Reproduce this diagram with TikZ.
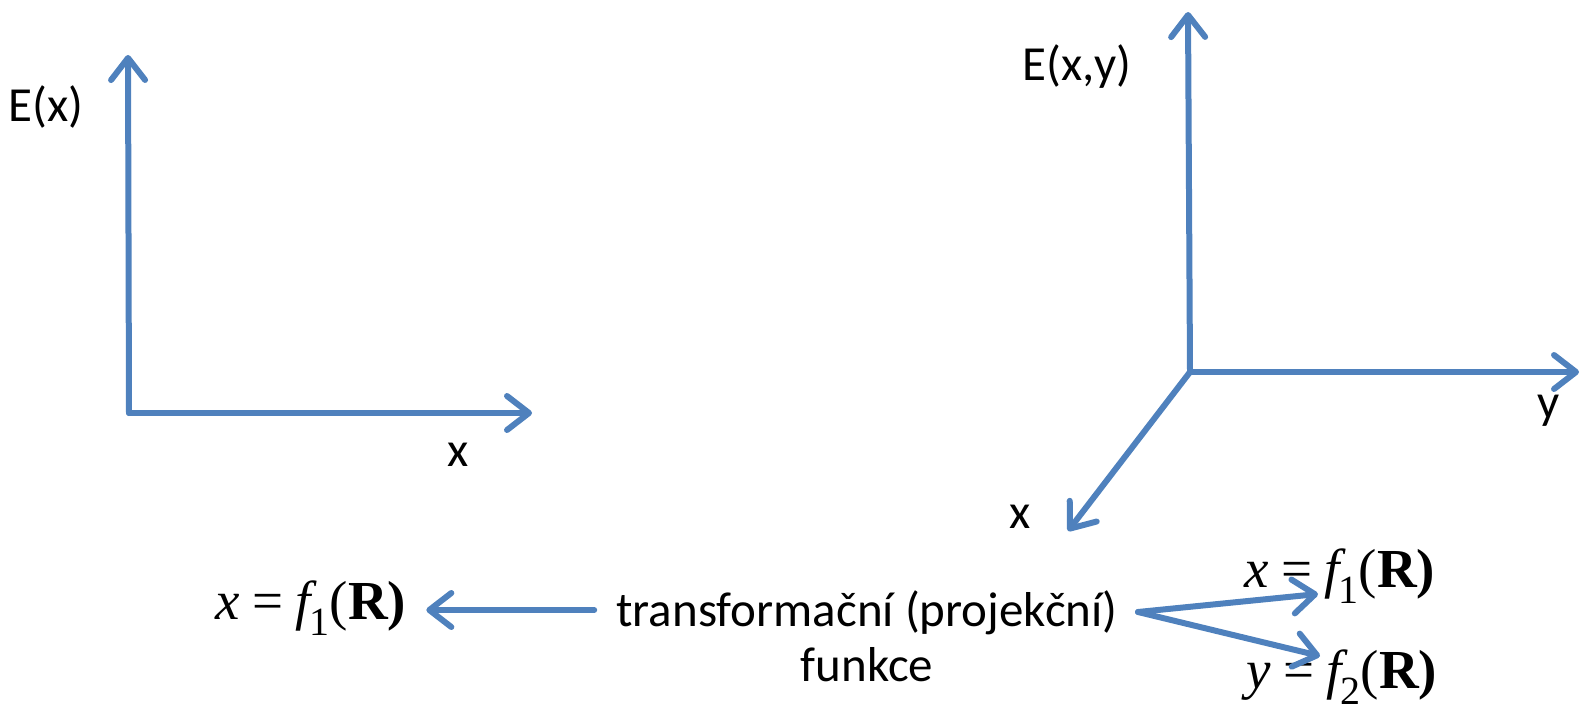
\documentclass[tikz,border=0pt]{standalone}
\usepackage{fontspec}
\setmainfont{Carlito}
\newfontfamily\tnr{Liberation Serif}
\usetikzlibrary{arrows.meta}
\definecolor{axblue}{RGB}{79,129,189}
\newcommand{\frm}[3]{{\tnr\itshape #1}\hspace{0.22em}{\tnr =}\hspace{0.22em}{\tnr\itshape #2}\kern-1pt\raisebox{-0.3em}{\fontsize{40}{40}\selectfont\tnr #3}{\tnr(\bfseries R)}}
\tikzset{
  ax/.style={draw=axblue, line width=6pt, line cap=round, line join=round,
    -{Straight Barb[length=22pt,width=34pt,round]}},
  lbl/.style={font=\fontsize{49}{55}\selectfont, inner sep=0pt},
  frml/.style={font=\fontsize{55}{60}\selectfont, inner sep=0pt}
}
\begin{document}
\begin{tikzpicture}[x=1pt,y=-1pt]
\useasboundingbox (0,0) rectangle (1581,709);
% left axes
\coordinate (o1) at (129,413);
\coordinate (e1) at (128,55);
\coordinate (x1) at (532,413);
\draw[ax] (o1) -- (e1);
\draw[ax] (o1) -- (x1);
\node[lbl] (Ex) at (46,107) {E(x)};
\node[lbl] (lx) at (458,455) {x};
% right axes
\coordinate (o2) at (1190,372);
\coordinate (e2) at (1188,12);
\coordinate (y2) at (1579,372);
\coordinate (x2) at (1068,531);
\draw[ax] (o2) -- (e2);
\draw[ax] (o2) -- (y2);
\draw[ax] (o2) -- (x2);
\node[lbl] (Exy) at (1077,67) {E(x,y)};
\node[lbl] (ly) at (1549,411) {y};
\node[lbl] (lx2) at (1020,517) {x};
% bottom
\node[lbl, align=center] (tr) at (867,636) {transformační (projekční)\\funkce};
\node[frml] (fl) at (311,608) {\frm{x}{f}{1}};
\node[frml] (fx) at (1340,576) {\frm{x}{f}{1}};
\node[frml] (fy) at (1342,677) {\frm{y}{f}{2}};
\coordinate (fork) at (1138,612);
\coordinate (tx) at (1318,594);
\coordinate (ty) at (1320,656);
\draw[ax] ([xshift=-22pt,yshift=26pt]tr.west) -- ([xshift=20pt,yshift=-2pt]fl.east);
\draw[ax] (fork) -- (tx);
\draw[ax] (fork) -- (ty);
\end{tikzpicture}
\end{document}
